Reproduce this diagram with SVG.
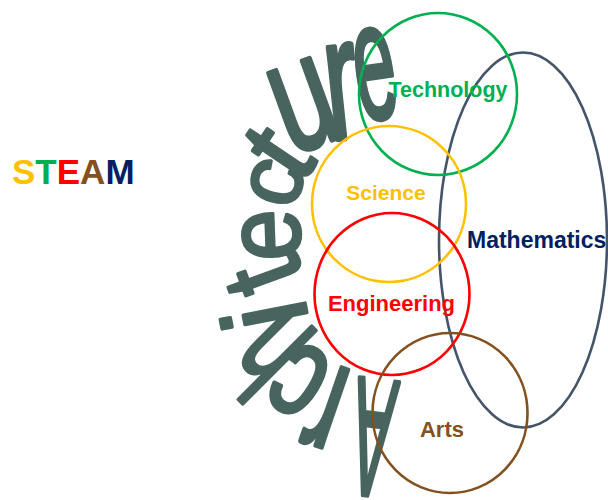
<svg xmlns="http://www.w3.org/2000/svg" width="608" height="500" viewBox="0 0 608 500">
<style>
.lbl{font-family:"Liberation Sans",Arial,sans-serif;font-weight:bold;text-anchor:middle}
.arch{font-family:"Liberation Sans",Arial,sans-serif;font-size:100px;fill:#48645F;stroke:#48645F;stroke-width:3;stroke-linejoin:round;text-anchor:middle}
.ring{fill:none;stroke-width:2.6}
</style>
<rect width="608" height="500" fill="#ffffff"/>
<g id="steam">
<text x="12" y="184" font-family="Liberation Sans, Arial, sans-serif" font-weight="bold" font-size="35"><tspan fill="#FFC000">S</tspan><tspan fill="#00B050">T</tspan><tspan fill="#FF0000">E</tspan><tspan fill="#84501E">A</tspan><tspan fill="#002060">M</tspan></text>
</g>
<g id="architecture">
<text class="arch" transform="translate(372 440) rotate(187) scale(0.63 1.68)" y="35.8">A</text>
<text class="arch" transform="translate(324 405) rotate(199) scale(0.95 1.55)" x="-3" y="26.5">r</text>
<text class="arch" transform="translate(300 380) rotate(212) scale(0.95 1.3)" y="26">c</text>
<text class="arch" transform="translate(268 355) rotate(225) scale(0.83 1.42)" y="35.8">h</text>
<text class="arch" transform="translate(264 316) rotate(259) scale(1.1 1.19)" y="35.8">i</text>
<text class="arch" transform="translate(263 277) rotate(250) scale(0.96 1.16)" y="33.5">t</text>
<text class="arch" transform="translate(272 235) rotate(268) scale(0.92 1.06)" y="26">e</text>
<text class="arch" transform="translate(277 183) rotate(285) scale(0.91 0.93)" y="26">c</text>
<text class="arch" transform="translate(278 152) rotate(304) scale(1.08 1.13)" y="33.5">t</text>
<text class="arch" transform="translate(304 106) rotate(340) scale(1.07 1.6)" y="26">u</text>
<text class="arch" transform="translate(345 92) rotate(354) scale(1.0 1.75)" x="-3" y="26.5">r</text>
<text class="arch" transform="translate(375 75) rotate(352) scale(0.75 1.67)" y="26">e</text>
</g>
<g id="mathematics">
<ellipse class="ring" cx="523" cy="240" rx="84" ry="187.5" stroke="#44546A"/>
<text class="lbl" x="467" y="248" font-size="23" fill="#002060" style="text-anchor:start">Mathematics</text>
</g>
<g id="technology">
<ellipse class="ring" cx="438" cy="94" rx="79" ry="81" stroke="#00B050"/>
<text class="lbl" x="448" y="97" font-size="21.5" fill="#00B050">Technology</text>
</g>
<g id="science">
<ellipse class="ring" cx="389" cy="204" rx="77" ry="78" stroke="#FFC000"/>
<text class="lbl" x="386" y="200" font-size="21" fill="#FFC000">Science</text>
</g>
<g id="engineering">
<ellipse class="ring" cx="392" cy="294" rx="77.5" ry="81" stroke="#FF0000"/>
<text class="lbl" x="391.5" y="311" font-size="22" fill="#FF0000">Engineering</text>
</g>
<g id="arts">
<ellipse class="ring" cx="450" cy="413" rx="77.5" ry="80" stroke="#84501E"/>
<text class="lbl" x="442" y="437" font-size="22" fill="#84501E">Arts</text>
</g>
</svg>
